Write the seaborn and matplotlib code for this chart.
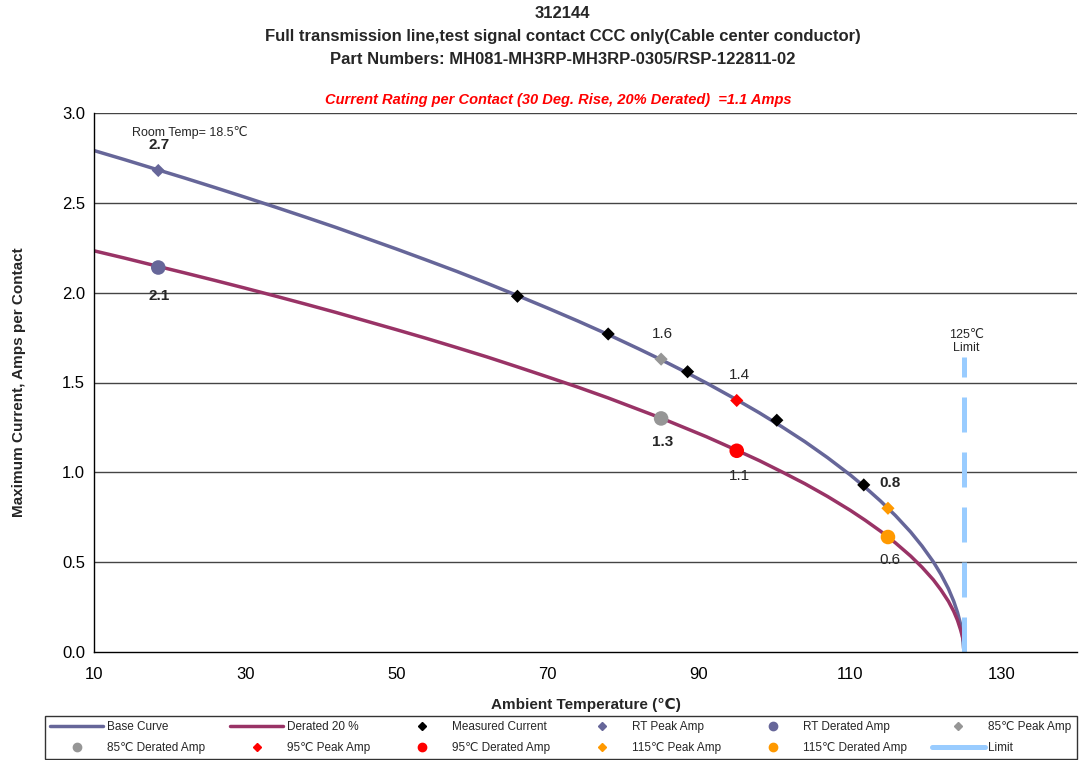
import pandas as pd
import seaborn as sns
from matplotlib import pyplot as plt
from matplotlib.lines import Line2D

# curve points
temps = [10, 14, 18.5, 22, 26, 30, 34, 38, 42, 46, 50, 54, 58, 62, 66, 70, 74, 78,
         82, 85, 88, 91, 95, 98, 101, 104, 107, 110, 112, 114, 116, 118, 119.5,
         121, 122, 123, 123.7, 124.2, 124.6, 124.85, 125]
base_amps = [2.791, 2.741, 2.683, 2.638, 2.585, 2.531, 2.476, 2.420, 2.363, 2.303,
             2.243, 2.181, 2.118, 2.052, 1.984, 1.914, 1.842, 1.767, 1.688, 1.627,
             1.563, 1.497, 1.404, 1.331, 1.253, 1.171, 1.082, 0.986, 0.916, 0.841,
             0.759, 0.668, 0.590, 0.502, 0.433, 0.352, 0.282, 0.220, 0.155, 0.094, 0.02]
derated_amps = [2.233, 2.193, 2.146, 2.110, 2.068, 2.025, 1.981, 1.936, 1.890, 1.842,
                1.794, 1.745, 1.694, 1.642, 1.587, 1.531, 1.474, 1.414, 1.350, 1.302,
                1.250, 1.198, 1.123, 1.065, 1.002, 0.937, 0.866, 0.789, 0.733, 0.673,
                0.607, 0.534, 0.472, 0.402, 0.346, 0.282, 0.226, 0.176, 0.124, 0.085, 0.06]

measured_t = [66, 78, 88.5, 100.3, 111.8]
measured_amps = [1.98, 1.77, 1.56, 1.29, 0.93]

point_t = [18.5, 85, 95, 115]
peak_amps = [2.68, 1.63, 1.40, 0.80]
derated_pts = [2.14, 1.30, 1.12, 0.64]
point_names = ['RT', '85℃', '95℃', '115℃']
point_colors = ['#666699', '#969696', '#FF0000', '#FF9900']

limit_t = [125, 125]
limit_amps = [0.0, 1.64]

base_color = '#666699'
derated_color = '#993366'
limit_color = '#99CCFF'

sns.set_style('white')
plt.rcParams['font.family'] = ['Liberation Sans', 'DejaVu Sans']

fig = plt.figure(figsize=(10.82, 7.6), dpi=100)
ax = fig.add_axes([94 / 1082, 108 / 760, 983 / 1082, 539 / 760])

curve_df = pd.DataFrame({'t': temps, 'base': base_amps, 'derated': derated_amps})
sns.lineplot(data=curve_df, x='t', y='base', color=base_color, lw=2.5, ax=ax)
sns.lineplot(data=curve_df, x='t', y='derated', color=derated_color, lw=2.5, ax=ax)
sns.lineplot(x=limit_t, y=limit_amps, color=limit_color, lw=3.6,
             linestyle=(0, (7, 4)), ax=ax, estimator=None, sort=False)

sns.scatterplot(x=measured_t, y=measured_amps, color='black', marker='D', s=45,
                edgecolor='none', ax=ax, zorder=5)
for t, pk, dr, c in zip(point_t, peak_amps, derated_pts, point_colors):
    sns.scatterplot(x=[t], y=[pk], color=c, marker='D', s=45, edgecolor='none', ax=ax, zorder=5)
    sns.scatterplot(x=[t], y=[dr], color=c, marker='o', s=110, edgecolor='none', ax=ax, zorder=5)

# value labels
ax.text(22.7, 2.89, 'Room Temp= 18.5℃', ha='center', va='center', fontsize=9)
labels = [(18.6, 2.82, '2.7', 'bold'), (18.6, 1.98, '2.1', 'bold'),
          (85.2, 1.77, '1.6', 'normal'), (85.2, 1.17, '1.3', 'bold'),
          (95.3, 1.54, '1.4', 'normal'), (95.3, 0.98, '1.1', 'normal'),
          (115.3, 0.94, '0.8', 'bold'), (115.3, 0.51, '0.6', 'normal')]
for x, y, s, w in labels:
    ax.text(x, y, s, ha='center', va='center', fontsize=11, fontweight=w)
ax.text(125.4, 1.73, '125℃\nLimit', ha='center', va='center', fontsize=9, linespacing=1.1)

ax.set_xlim(10, 140)
ax.set_ylim(0, 3.0)
ax.set_xticks(range(10, 131, 20))
ax.set_yticks([0, 0.5, 1.0, 1.5, 2.0, 2.5, 3.0])
ax.set_yticklabels(['0.0', '0.5', '1.0', '1.5', '2.0', '2.5', '3.0'])
ax.tick_params(axis='both', direction='inout', length=6, width=1, labelsize=12, colors='black')
ax.tick_params(axis='x', pad=8)
for y in [0.5, 1.0, 1.5, 2.0, 2.5, 3.0]:
    ax.axhline(y, color='#444444', lw=1, zorder=0)
for side in ['top', 'right']:
    ax.spines[side].set_visible(False)
for side in ['left', 'bottom']:
    ax.spines[side].set_color('black')
    ax.spines[side].set_linewidth(1)

ax.set_xlabel('Ambient Temperature (℃)', fontsize=11, fontweight='bold', labelpad=11)
ax.set_ylabel('Maximum Current, Amps per Contact', fontsize=11, fontweight='bold', labelpad=26)

fig.text(0.52, 1 - 14 / 760, '312144', ha='center', va='center', fontsize=12, fontweight='bold')
fig.text(0.52, 1 - 37 / 760, 'Full transmission line,test signal contact CCC only(Cable center conductor)',
         ha='center', va='center', fontsize=12, fontweight='bold')
fig.text(0.52, 1 - 59 / 760, 'Part Numbers: MH081-MH3RP-MH3RP-0305/RSP-122811-02',
         ha='center', va='center', fontsize=12, fontweight='bold')
fig.text(558 / 1082, 1 - 100 / 760,
         'Current Rating per Contact (30 Deg. Rise, 20% Derated)  =1.1 Amps',
         ha='center', va='center', fontsize=10.5, fontweight='bold', fontstyle='italic', color='red')

# legend, row-wise in the reference
handles = [Line2D([], [], color=base_color, lw=2.5),
           Line2D([], [], color=derated_color, lw=2.5),
           Line2D([], [], color='black', marker='D', ls='', ms=4)]
names = ['Base Curve', 'Derated 20 %', 'Measured Current']
for n, c in zip(point_names, point_colors):
    handles.append(Line2D([], [], color=c, marker='D', ls='', ms=4))
    names.append(f'{n} Peak Amp')
    handles.append(Line2D([], [], color=c, marker='o', ls='', ms=6))
    names.append(f'{n} Derated Amp')
handles.append(Line2D([], [], color=limit_color, lw=3.6))
names.append('Limit')

order = []
for col in range(6):
    order += [col, col + 6]
leg = fig.legend([handles[i] for i in order], [names[i] for i in order], ncol=6,
                 loc='lower left', bbox_to_anchor=(45 / 1082, 1 / 760, 1032 / 1082, 43 / 760),
                 mode='expand', fontsize=8.5, frameon=True, fancybox=False, edgecolor='black',
                 handlelength=4.5, borderaxespad=0, borderpad=0.45, labelspacing=0.7,
                 handletextpad=0.3)
leg.get_frame().set_linewidth(1)

fig.savefig('out.png', dpi=100)
